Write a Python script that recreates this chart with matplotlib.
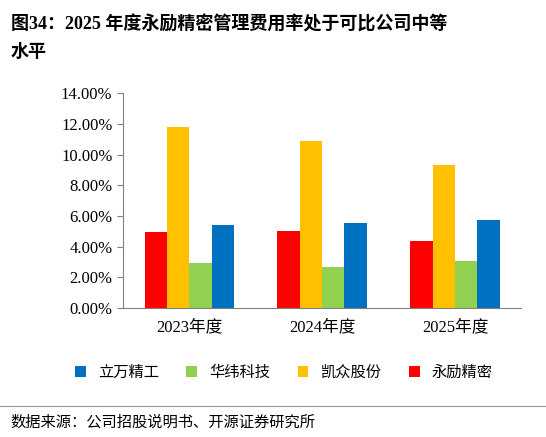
import numpy as np
import matplotlib.pyplot as plt

years = ['2023年度', '2024年度', '2025年度']
yongli = [4.95, 5.05, 4.35]
huawei = [2.95, 2.65, 3.05]
kaizhong = [11.8, 10.9, 9.3]
liwan = [5.4, 5.55, 5.75]

fams = ['Liberation Serif', 'Noto Sans CJK SC']
plt.rcParams['font.family'] = fams

fig = plt.figure(figsize=(5.46, 4.37), dpi=100)
ax = fig.add_axes([0.225, 0.295, 0.73, 0.492])

x = np.arange(len(years))
w = 0.168
series = [(yongli, '#FF0000', '永励精密'), (kaizhong, '#FFC000', '凯众股份'),
          (huawei, '#92D050', '华纬科技'), (liwan, '#0070C0', '立万精工')]
bars = {}
for i, (vals, c, name) in enumerate(series):
    bars[name] = ax.bar(x + (i - 1.5) * w, vals, w, color=c, label=name)

ax.set_ylim(0, 14)
ax.set_yticks(np.arange(0, 15, 2))
ax.set_yticklabels([f'{v:.2f}%' for v in np.arange(0, 15, 2)], fontsize=12)
ax.set_xticks(x)
ax.set_xticklabels(years, fontsize=12)
ax.set_xlim(-0.5, 2.5)
for s in ['top', 'right']:
    ax.spines[s].set_visible(False)
ax.spines['left'].set_color('#808080')
ax.spines['bottom'].set_color('#808080')
ax.tick_params(axis='x', length=0, pad=8)
ax.tick_params(axis='y', length=4, color='#808080')

order = ['立万精工', '华纬科技', '凯众股份', '永励精密']
fig.legend([bars[n] for n in order], order, loc='center', bbox_to_anchor=(0.52, 0.148),
           ncol=4, frameon=False, handlelength=0.7, handleheight=0.7,
           columnspacing=1.8, prop={'family': 'Noto Sans CJK SC', 'size': 11})

fig.text(0.02, 0.965, '图34：2025 年度永励精密管理费用率处于可比公司中等', fontsize=13,
         fontweight='bold', va='top', color='black')
fig.text(0.02, 0.905, '水平', fontsize=13, fontweight='bold', va='top', color='black',
         family=['Noto Sans CJK SC'])
fig.add_artist(plt.Line2D([0.0, 1.0], [0.072, 0.072], color='#999999', lw=0.8))
fig.text(0.02, 0.035, '数据来源：公司招股说明书、开源证券研究所', fontsize=11, va='center',
         family=['Noto Sans CJK SC'])

fig.savefig('out.png', dpi=100)
